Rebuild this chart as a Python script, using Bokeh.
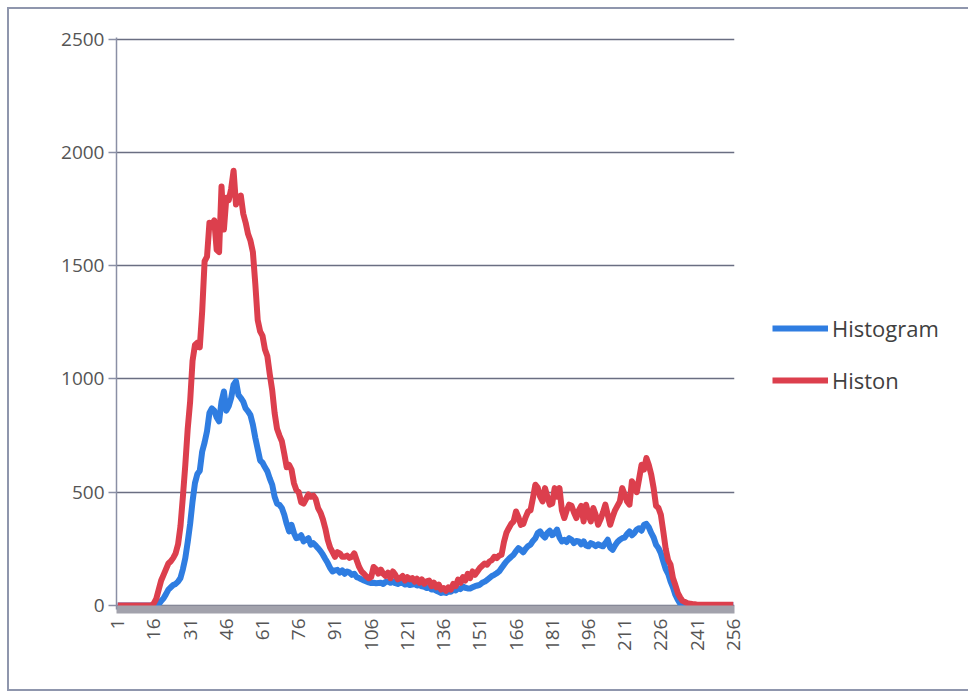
import math
from bokeh.plotting import figure
from bokeh.models import Range1d, FixedTicker, Legend, LegendItem
from bokeh.embed import file_html
from bokeh.resources import INLINE

categories = list(range(1, 257))

histogram = [
    0, 0, 0, 0, 0, 0, 0, 0, 0, 0,
    0, 0, 0, 0, 0, 0, 0, 5, 20, 32,
    50, 70, 80, 90, 95, 105, 121, 160, 209, 280,
    360, 459, 540, 580, 595, 680, 720, 770, 850, 870,
    860, 830, 813, 900, 945, 860, 880, 916, 975, 990,
    930, 916, 900, 870, 857, 840, 798, 740, 690, 640,
    630, 610, 592, 560, 533, 480, 450, 444, 430, 400,
    360, 327, 356, 320, 297, 300, 310, 283, 290, 297,
    268, 275, 265, 253, 240, 224, 205, 187, 165, 150,
    155, 157, 145, 155, 140, 150, 145, 135, 140, 125,
    121, 115, 110, 106, 102, 99, 100, 98, 99, 100,
    95, 104, 106, 100, 106, 98, 95, 100, 99, 92,
    96, 90, 92, 95, 88, 90, 84, 82, 77, 80,
    70, 72, 65, 60, 55, 58, 55, 62, 60, 70,
    66, 75, 72, 84, 78, 75, 75, 80, 85, 88,
    91, 100, 105, 112, 121, 130, 135, 142, 150, 165,
    180, 194, 205, 215, 224, 240, 253, 245, 235, 250,
    262, 268, 285, 297, 320, 327, 310, 300, 320, 330,
    310, 320, 335, 300, 283, 290, 280, 297, 290, 275,
    285, 283, 270, 283, 265, 261, 275, 270, 262, 270,
    265, 261, 275, 290, 255, 246, 265, 280, 290, 297,
    300, 315, 327, 310, 320, 335, 341, 330, 356, 360,
    345, 320, 300, 268, 253, 230, 194, 160, 140, 106,
    80, 47, 25, 8, 4, 2, 2, 2, 2, 2,
    2, 2, 2, 2, 2, 2, 2, 2, 2, 2,
    2, 2, 2, 2, 2, 2,
]

histon = [
    0, 0, 0, 0, 0, 0, 0, 0, 0, 0,
    0, 0, 0, 0, 0, 10, 30, 70, 110, 135,
    160, 185, 195, 210, 230, 270, 350, 480, 620, 780,
    900, 1080, 1150, 1160, 1140, 1300, 1520, 1540, 1690, 1680,
    1700, 1570, 1560, 1850, 1660, 1800, 1790, 1840, 1920, 1770,
    1800, 1810, 1730, 1690, 1640, 1610, 1560, 1420, 1260, 1210,
    1190, 1130, 1100, 1020, 950, 850, 780, 750, 725, 670,
    610, 620, 600, 540, 510, 500, 455, 450, 470, 490,
    480, 485, 470, 430, 410, 380, 340, 290, 255, 235,
    215, 235, 230, 215, 215, 220, 210, 215, 230, 200,
    170, 150, 140, 128, 120, 125, 170, 160, 140, 158,
    140, 130, 145, 120, 150, 135, 115, 121, 130, 110,
    125, 115, 121, 105, 118, 100, 115, 95, 106, 110,
    85, 100, 80, 92, 70, 77, 65, 80, 70, 95,
    85, 114, 100, 125, 110, 140, 121, 150, 135, 150,
    165, 175, 185, 180, 194, 200, 215, 209, 220, 224,
    280, 320, 341, 360, 371, 415, 390, 356, 360, 390,
    415, 420, 474, 533, 520, 480, 459, 518, 480, 445,
    450, 518, 480, 518, 420, 386, 420, 445, 440, 410,
    386, 420, 440, 371, 445, 400, 371, 430, 400, 356,
    380, 410, 445, 400, 356, 390, 420, 440, 459, 518,
    490, 459, 445, 548, 530, 500, 560, 621, 600, 651,
    620, 578, 518, 440, 430, 400, 327, 250, 200, 180,
    121, 90, 55, 35, 20, 15, 10, 8, 6, 5,
    3, 3, 3, 3, 3, 3, 3, 3, 3, 3,
    3, 3, 3, 3, 3, 3,
]

y_ticks = [0, 500, 1000, 1500, 2000, 2500]
x_ticks = list(range(1, 257, 15))
series_names = ["Histogram", "Histon"]
series_colors = ["#2f7de1", "#dc3f4d"]

FONT = "Open Sans"

p = figure(
    frame_width=618, frame_height=572,
    x_range=Range1d(0.5, 256.5), y_range=Range1d(-18, 2508),
    min_border_left=107, min_border_right=230, min_border_top=28, min_border_bottom=80,
    output_backend="svg", toolbar_location=None,
)
p.outline_line_color = None
p.background_fill_color = "white"
p.border_fill_color = "white"
p.styles = {"border": "2px solid #8f96ad", "margin-left": "7px", "margin-top": "7px"}

# grid
p.xgrid.grid_line_color = None
p.ygrid.ticker = FixedTicker(ticks=y_ticks)
p.ygrid.grid_line_color = "#6a6e82"
p.ygrid.grid_line_width = 1.6

# y axis
p.yaxis.ticker = FixedTicker(ticks=y_ticks)
p.yaxis.axis_line_color = "#8a8fa5"
p.yaxis.axis_line_width = 1.5
p.yaxis.major_tick_line_color = "#8a8fa5"
p.yaxis.major_tick_line_width = 1.5
p.yaxis.major_tick_out = 8
p.yaxis.major_tick_in = 0
p.yaxis.minor_tick_line_color = None
p.yaxis.major_label_standoff = 4
p.yaxis.major_label_text_font = FONT
p.yaxis.major_label_text_font_size = "19px"
p.yaxis.major_label_text_color = "#555555"

# x axis (thick grey band)
p.xaxis.ticker = FixedTicker(ticks=x_ticks)
p.xaxis.axis_line_color = "#a2a2ac"
p.xaxis.axis_line_width = 8
p.xaxis.major_tick_line_color = None
p.xaxis.major_tick_out = 0
p.xaxis.major_tick_in = 0
p.xaxis.minor_tick_line_color = None
p.xaxis.major_label_orientation = math.pi / 2
p.xaxis.major_label_standoff = 9
p.xaxis.major_label_text_font = FONT
p.xaxis.major_label_text_font_size = "19px"
p.xaxis.major_label_text_color = "#555555"

r1 = p.line(categories, histogram, line_color=series_colors[0], line_width=6, line_join="round")
r2 = p.line(categories, histon, line_color=series_colors[1], line_width=6, line_join="round")

legend = Legend(
    items=[LegendItem(label=series_names[0], renderers=[r1]),
           LegendItem(label=series_names[1], renderers=[r2])],
    location=(38, 214),
)
legend.border_line_color = None
legend.background_fill_alpha = 0
legend.padding = 0
legend.margin = 0
legend.spacing = 22
legend.glyph_width = 56
legend.glyph_height = 28
legend.label_height = 28
legend.label_standoff = 4
legend.label_text_font = FONT
legend.label_text_font_size = "22px"
legend.label_text_color = "#404040"
p.add_layout(legend, "right")

open("out.html", "w").write(file_html(p, INLINE))
